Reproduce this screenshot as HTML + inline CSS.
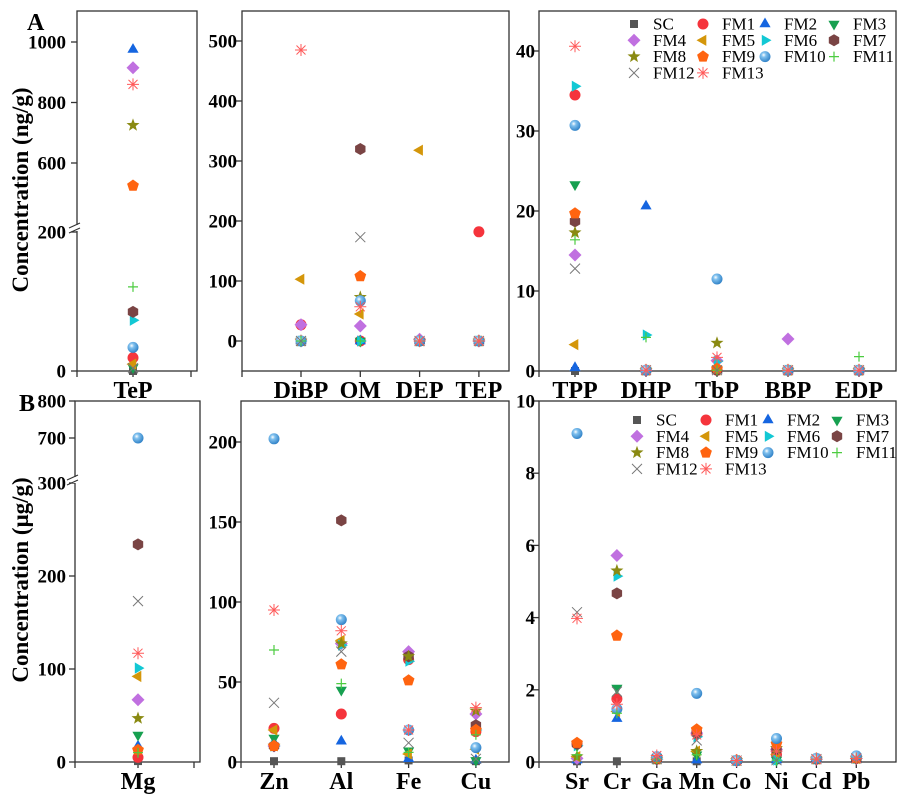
<!DOCTYPE html>
<html><head><meta charset="utf-8">
<style>
html,body{margin:0;padding:0;background:#fff;}
svg{display:block;font-family:"Liberation Serif",serif;}
.tk{font-size:19px;font-weight:bold;}
.cat{font-size:24px;font-weight:bold;}
.lg{font-size:17px;}
</style></head>
<body>
<svg id="chart" width="906" height="800" viewBox="0 0 906 800" xmlns="http://www.w3.org/2000/svg">
<defs>
<radialGradient id="sph" cx="0.38" cy="0.35" r="0.7">
<stop offset="0" stop-color="#ffffff"/><stop offset="0.3" stop-color="#7fc0ee"/><stop offset="1" stop-color="#2a7dc4"/>
</radialGradient>
</defs>
</svg>
<script>
const seriesNames = ['SC','FM1','FM2','FM3','FM4','FM5','FM6','FM7','FM8','FM9','FM10','FM11','FM12','FM13'];
const seriesShapes = ['square','circle','tri-up','tri-down','diamond','tri-left','tri-right','hexagon','star','pentagon','sphere','plus','cross','asterisk'];
const seriesColors = ['#555555','#f5343c','#1565e0','#17a050','#c070e0','#d4960a','#12c8d4','#7a4444','#8a8a12','#ff6410','#3a8fd0','#4ccc40','#777777','#ff5a5a'];

// Panel A1 (ng/g)
const tepCategories = ['TeP'];
const tepValues = [[0],[19],[975],[5],[915],[10],[73],[85],[725],[525],[34],[121],[4],[860]];
const tepTicks = [0,200,600,800,1000];
// Panel A2
const oprA2Categories = ['DiBP','OM','DEP','TEP'];
const oprA2Values = [[0,0,0,0],[27,0,0,182],[0,0,0,0],[0,0,0,0],[27,25,3,0],[103,45,318,0],[0,0,0,0],[0,320,0,0],[0,73,0,0],[0,108,0,0],[0,67,0,0],[0,0,0,0],[0,173,0,0],[485,57,0,0]];
const oprA2Ticks = [0,100,200,300,400,500];
// Panel A3
const oprA3Categories = ['TPP','DHP','TbP','BBP','EDP'];
const oprA3Values = [[0,0.1,0.1,0.1,0.1],[34.5,0.1,0.1,0.1,0.1],[0.4,20.6,0.1,0.1,0.1],[23.3,0.1,0.1,0.1,0.1],[14.5,0.1,1.3,4.0,0.1],[3.3,0.1,0.1,0.1,0.1],[35.6,4.5,1.2,0.1,0.1],[18.7,0.1,0.1,0.1,0.1],[17.3,0.1,3.5,0.1,0.1],[19.7,0.1,0.3,0.1,0.1],[30.7,0.1,11.5,0.1,0.1],[16.4,4.2,0.1,0.1,1.8],[12.8,0.1,0.1,0.1,0.1],[40.6,0.1,1.7,0.1,0.1]];
const oprA3Ticks = [0,10,20,30,40];
// Panel B1 (ug/g)
const mgCategories = ['Mg'];
const mgValues = [[1],[5],[17],[29],[67],[92],[101],[234],[47],[13],[700],[10],[173],[117]];
const mgTicks = [0,100,200,300,700,800];
// Panel B2
const metB2Categories = ['Zn','Al','Fe','Cu'];
const metB2Values = [[0.5,0.5,1,0.5],[21,30,64,19],[12,13,2,1],[15,45,7,1],[10,74,69,30],[20,76,5,8],[10,73,63,20],[10,151,66,23],[10,74,66,32],[10,61,51,20],[202,89,20,9],[70,49,6,17],[37,69,12,2],[95,82,20,34]];
const metB2Ticks = [0,50,100,150,200];
// Panel B3
const metB3Categories = ['Sr','Cr','Ga','Mn','Co','Ni','Cd','Pb'];
const metB3Values = [
[0.02,0.02,0.08,0.02,0.04,0.05,0.08,0.1],
[0.5,1.75,0.08,0.8,0.04,0.2,0.08,0.1],
[0.05,1.2,0.08,0.05,0.04,0.05,0.08,0.1],
[0.45,2.05,0.08,0.2,0.04,0.05,0.08,0.1],
[0.1,5.72,0.08,0.8,0.04,0.35,0.08,0.1],
[0.15,1.4,0.08,0.3,0.04,0.2,0.08,0.1],
[0.45,5.15,0.08,0.7,0.04,0.05,0.08,0.1],
[0.5,4.67,0.08,0.8,0.04,0.35,0.08,0.1],
[0.15,5.3,0.08,0.3,0.04,0.38,0.08,0.1],
[0.53,3.5,0.1,0.9,0.05,0.5,0.1,0.12],
[9.1,1.47,0.15,1.9,0.04,0.65,0.1,0.17],
[0.2,1.35,0.08,0.2,0.04,0.05,0.08,0.1],
[4.15,1.95,0.08,0.6,0.04,0.05,0.08,0.1],
[3.98,1.6,0.18,0.75,0.04,0.3,0.08,0.1]];
const metB3Ticks = [0,2,4,6,8,10];

const NS='http://www.w3.org/2000/svg';
const svg=document.getElementById('chart');
function mk(tag,attrs,parent){const e=document.createElementNS(NS,tag);for(const k in attrs)e.setAttribute(k,attrs[k]);(parent||svg).appendChild(e);return e;}

function marker(g,shape,x,y,c){
  const r=5.5;let e;
  if(shape==='square'){e=mk('rect',{x:x-4,y:y-4,width:8,height:8,fill:c},g);}
  else if(shape==='circle'){e=mk('circle',{cx:x,cy:y,r:r,fill:c},g);}
  else if(shape==='sphere'){e=mk('circle',{cx:x,cy:y,r:r,fill:'url(#sph)'},g);}
  else if(shape==='plus'){e=mk('path',{d:`M${x-5},${y}H${x+5}M${x},${y-5}V${y+5}`,stroke:c,'stroke-width':1.2,fill:'none'},g);}
  else if(shape==='cross'){e=mk('path',{d:`M${x-5},${y-5}L${x+5},${y+5}M${x-5},${y+5}L${x+5},${y-5}`,stroke:c,'stroke-width':1,fill:'none'},g);}
  else if(shape==='asterisk'){e=mk('path',{d:`M${x-6},${y}H${x+6}M${x},${y-6}V${y+6}M${x-4.5},${y-4.5}L${x+4.5},${y+4.5}M${x-4.5},${y+4.5}L${x+4.5},${y-4.5}`,stroke:c,'stroke-width':1,fill:'none'},g);}
  else {
    let pts=[];
    const poly=(n,rot,rr)=>{for(let i=0;i<n;i++){const a=rot+i*2*Math.PI/n;pts.push([x+rr*Math.cos(a),y+rr*Math.sin(a)]);}};
    if(shape==='tri-up')poly(3,-Math.PI/2,6.5);
    else if(shape==='tri-down')poly(3,Math.PI/2,6.5);
    else if(shape==='tri-left')poly(3,Math.PI,6.5);
    else if(shape==='tri-right')poly(3,0,6.5);
    else if(shape==='diamond')poly(4,-Math.PI/2,6.5);
    else if(shape==='hexagon')poly(6,-Math.PI/2,6);
    else if(shape==='pentagon')poly(5,-Math.PI/2,6.2);
    else if(shape==='star'){for(let i=0;i<10;i++){const a=-Math.PI/2+i*Math.PI/5;const rr=i%2?2.8:6.8;pts.push([x+rr*Math.cos(a),y+rr*Math.sin(a)]);}}
    e=mk('polygon',{points:pts.map(p=>p.map(v=>v.toFixed(1)).join(',')).join(' '),fill:c},g);
  }
  return e;
}

function panel(name,box,cats,catX,vals,ticks,yFn,tickLabelX,breakY){
  const g=mk('g',{});
  
  
  const frame=mk('rect',{x:box.l,y:box.t,width:box.r-box.l,height:box.b-box.t,fill:'none',stroke:'#333','stroke-width':1.3},g);
  
  
  ticks.forEach(t=>{
    const y=yFn(t);
    mk('line',{x1:box.l-6,x2:box.l,y1:y,y2:y,stroke:'#333','stroke-width':1.3},g);
    const tx=mk('text',{x:tickLabelX,y:y+6.5,'text-anchor':'end',class:'tk'},g);
    tx.textContent=String(t);
    
    
  });
  if(breakY){
    mk('rect',{x:box.l-3,y:breakY-4,width:6,height:6,fill:'#fff'},g);
    mk('path',{d:`M${box.l-8},${breakY-1}L${box.l+3},${breakY-6}M${box.l-8},${breakY+4}L${box.l+3},${breakY-1}`,stroke:'#333','stroke-width':1.2,fill:'none'},g);
  }
  mk('line',{x1:box.l,x2:box.l,y1:box.b,y2:box.b+6,stroke:'#333','stroke-width':1.3},g);
  if(cats.length===1) mk('line',{x1:box.r-6,x2:box.r-6,y1:box.b,y2:box.b+6,stroke:'#333','stroke-width':1.3},g);
  cats.forEach((c,i)=>{
    const x=catX(i);
    mk('line',{x1:x,x2:x,y1:box.b,y2:box.b+6,stroke:'#333','stroke-width':1.3},g);
    const tx=mk('text',{x:x,y:box.b+27,'text-anchor':'middle',class:'cat'},g);
    tx.textContent=c;
    
    
  });
  vals.forEach((row,s)=>{
    row.forEach((v,i)=>{
      const m=marker(g,seriesShapes[s],catX(i),yFn(v),seriesColors[s]);
      
      
    });
  });
}

panel('panel-a-tep',{l:77,r:197,t:11,b:371},tepCategories,i=>133,tepValues,tepTicks,
 v=>v<=200?371-v*0.695:163-(v-600)*0.3025,66,229);
panel('panel-a-opr-1',{l:242,r:509,t:11,b:371},oprA2Categories,i=>301+i*59.3,oprA2Values,oprA2Ticks,v=>341-v*0.6,237,null);
panel('panel-a-opr-2',{l:539,r:896,t:11,b:371},oprA3Categories,i=>575+i*71,oprA3Values,oprA3Ticks,v=>371-v*8,535,null);
panel('panel-b-mg',{l:75,r:200,t:401,b:762},mgCategories,i=>138,mgValues,mgTicks,
 v=>v<=300?762-v*0.93:438-(v-700)*0.37,66,481);
panel('panel-b-metals-1',{l:241,r:509,t:401,b:762},metB2Categories,i=>274+i*67.3,metB2Values,metB2Ticks,v=>762-v*1.6,237,null);
panel('panel-b-metals-2',{l:539,r:896,t:401,b:762},metB3Categories,i=>577+i*39.9,metB3Values,metB3Ticks,v=>762-v*36.1,535,null);

function legend(name,top,mx0,tx0){
  const g=mk('g',{});
  
  
  const mxs=[0,69,131,200];
  seriesNames.forEach((n,i)=>{
    const col=i%4,row=Math.floor(i/4);
    const y=top+row*16.3;
    const m=marker(g,seriesShapes[i],mx0+mxs[col],y,seriesColors[i]);
    
    
    const t=mk('text',{x:tx0+mxs[col],y:y+5.5,class:'lg'},g);
    t.textContent=n;
    
    
  });
}
legend('legend-a',24,634,653);
legend('legend-b',420,637,656);

const la=mk('text',{x:27,y:30,style:'font-size:24px;font-weight:bold'});la.textContent='A';

const lb=mk('text',{x:19,y:411,style:'font-size:24px;font-weight:bold'});lb.textContent='B';

const ya=mk('text',{x:0,y:0,transform:'translate(28,190) rotate(-90)','text-anchor':'middle',style:'font-size:23px;font-weight:bold'});ya.textContent='Concentration (ng/g)';

const yb=mk('text',{x:0,y:0,transform:'translate(28,580) rotate(-90)','text-anchor':'middle',style:'font-size:23px;font-weight:bold'});yb.textContent='Concentration (μg/g)';

</script>
</body></html>
